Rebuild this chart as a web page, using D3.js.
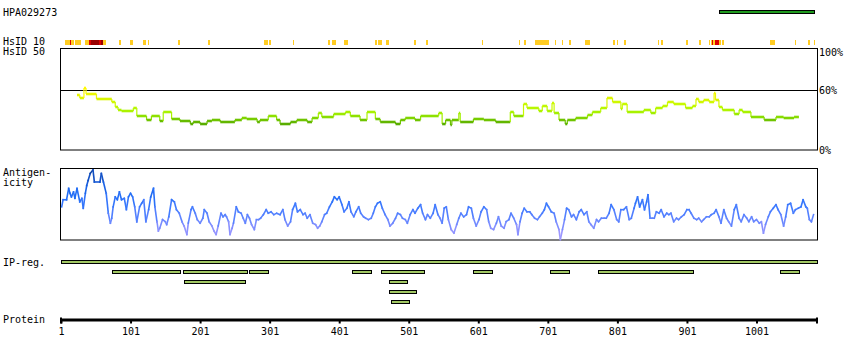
<!DOCTYPE html>
<html><head><meta charset="utf-8">
<script src="https://cdn.jsdelivr.net/npm/d3@7"></script>
<style>
html,body{margin:0;padding:0;background:#fff;}
svg text{font-family:"DejaVu Sans Mono",monospace;font-size:10px;fill:#000;}
</style></head>
<body><svg id="c" width="850" height="360"></svg>
<script>
// ---------------- DATA ----------------
const proteinLength = 1088;
const antigenName = "HPA029273";
const antigenStart = 947, antigenEnd = 1083;
const tickLabels = [1,101,201,301,401,501,601,701,801,901,1001];

// HsID 10 strip: [start, end, level] level 0=yellow 1=red 2=dark red
const hsid10 = [[7,14,0],[14,15,1],[15,20,0],[21,30,0],[36,41,0],[41,44,1],[44,56,2],[56,59,1],[59,61,2],[61,66,0],
[85,87,0],[100,105,0],[119,123,0],[126,128,0],[169,172,0],[213,215,0],[293,298,0],[300,303,0],[334,336,0],
[385,388,0],[391,397,0],[408,413,0],[453,456,0],[457,462,0],[469,473,0],[509,512,0],[526,529,0],[606,608,0],
[659,660,0],[667,670,0],[682,703,0],[711,712,0],[721,722,0],[731,734,0],[754,757,0],[758,761,0],[795,798,0],
[800,801,0],[810,814,0],[859,860,0],[863,867,0],[899,903,0],[918,921,0],[932,934,0],[935,937,0],[937,939,1],
[939,942,0],[942,947,1],[947,950,0],[952,955,0],[1020,1023,0],[1024,1027,0],[1056,1057,0],[1075,1078,0],[1083,1085,0]];

// HsID 50 step line: residue where each level starts, and level (%)
const hsid50Pos = [24,28,34,37,52,74,79,83,88,105,110,124,131,143,148,160,172,187,191,201,211,218,230,251,261,268,283,287,299,311,316,331,340,355,362,371,376,393,410,417,431,441,453,460,482,489,496,510,518,544,549,554,561,563,573,575,594,609,626,647,652,666,671,688,693,700,707,710,717,726,729,741,758,765,777,786,794,806,808,815,839,849,856,866,873,882,899,909,914,918,925,933,940,942,947,952,969,976,981,993,1012,1029,1040,1055,1062];
const hsid50Val = [55,52,62,56,51,48,43,40,39,42,34,30,34,29,38,31,29,26,28,26,29,30,28,30,32,31,28,30,34,30,26,28,30,28,32,37,33,36,38,34,30,38,31,28,26,30,32,30,34,37,26,30,25,30,37,28,31,30,28,38,34,46,42,39,44,39,47,37,30,26,30,32,35,38,42,52,48,41,46,38,40,37,42,44,48,46,42,44,51,48,50,48,57,50,43,40,36,40,38,33,30,33,32,33,33];

// Antigenicity profile (residue, score 0-100)
const antiPos = [2,4,9,12,14,16,19,21,24,28,31,33,36,38,40,43,47,49,57,59,62,66,69,72,74,76,79,82,85,88,92,95,98,101,104,107,110,114,117,120,123,127,130,134,136,139,141,143,147,151,153,156,160,164,167,171,175,178,182,184,188,190,194,197,201,205,207,211,214,218,221,224,227,231,234,237,239,242,244,247,249,253,256,260,263,266,269,272,275,279,282,285,288,292,296,299,303,307,311,316,320,323,327,331,334,338,341,345,349,352,355,359,363,367,370,373,376,380,383,387,391,394,398,401,405,408,412,415,418,422,425,429,432,436,439,443,447,450,453,456,460,463,467,471,474,478,482,485,489,492,496,499,503,507,510,514,518,521,525,528,532,536,539,543,546,549,552,555,558,562,566,570,573,576,580,584,587,591,594,598,602,605,609,613,616,619,623,627,630,634,638,641,645,648,652,656,658,661,664,667,671,675,678,682,686,689,693,696,699,702,706,710,713,717,719,722,725,728,731,735,738,742,746,749,753,757,760,763,767,771,774,778,782,785,789,792,796,800,803,806,810,814,818,821,825,827,830,833,837,840,843,845,848,851,854,857,861,864,868,872,875,878,882,886,889,893,897,901,904,907,911,915,918,922,925,929,933,936,940,943,947,950,954,958,961,965,969,972,976,979,983,987,990,994,997,1001,1005,1008,1011,1014,1018,1021,1025,1029,1032,1036,1040,1043,1046,1050,1054,1057,1061,1065,1068,1072,1074,1077,1080,1083];
const antiVal = [46,56,56,72,65,60,67,58,72,53,58,44,65,76,83,93,98,81,81,93,81,65,37,23,30,46,60,56,67,56,58,42,60,65,60,46,25,46,51,56,25,42,60,72,46,25,12,16,28,25,21,32,56,53,42,37,25,19,7,23,42,46,37,28,23,30,42,37,25,19,12,7,19,37,32,35,32,25,7,16,23,46,39,37,30,23,35,30,21,14,28,28,30,35,42,37,39,35,37,35,42,28,19,25,42,51,39,42,35,37,30,35,23,21,16,19,25,35,37,46,53,60,56,60,49,39,44,53,39,32,39,46,37,32,30,28,30,37,46,51,53,44,35,28,19,23,30,37,35,30,28,23,35,42,37,44,49,37,28,35,30,37,49,35,30,23,44,46,28,14,9,21,30,37,32,35,46,44,30,19,28,39,46,42,25,16,14,23,32,19,16,25,28,37,30,21,7,25,37,44,39,39,35,30,28,32,37,42,51,46,39,37,25,14,0,14,28,44,42,32,35,28,39,42,35,39,25,21,16,28,25,30,30,30,37,49,42,28,25,42,42,46,28,30,44,51,60,46,56,42,53,63,30,30,30,39,37,42,32,37,35,37,25,30,28,32,35,42,42,37,30,28,30,25,28,32,32,35,37,42,32,23,42,30,25,19,42,49,30,25,35,30,25,32,25,28,23,25,9,21,32,39,44,49,42,35,19,32,49,51,37,42,44,46,56,46,44,28,25,35];

// IP-reg rows: [start, end]
const ipRow1 = [[1,1088]];
const ipRow2 = [[75,173],[176,268],[272,300],[419,447],[461,523],[593,621],[704,732],[773,910],[1035,1063]];
const ipRow3 = [[178,265],[472,498]];
const ipRow4 = [[472,511]];
const ipRow5 = [[475,501]];
const ipRows = [ipRow1, ipRow2, ipRow3, ipRow4, ipRow5];

// ---------------- DRAW ----------------
const svg = d3.select("#c");
const x = d3.scaleLinear().domain([1, proteinLength]).range([61, 817]);

const lab = (t, xx, yy) => svg.append("text").attr("x", xx).attr("y", yy).text(t);
lab(antigenName, 3, 16);
lab("HsID 10", 3, 45);
lab("HsID 50", 3, 55);
lab("Antigen-", 3, 175.5);
lab("icity", 3, 185.5);
lab("IP-reg.", 3, 266);
lab("Protein", 3, 322.5);

// antigen bar
svg.append("rect").attr("x", Math.round(x(antigenStart)) + 0.5).attr("y", 10.5)
  .attr("width", Math.round(x(antigenEnd) - x(antigenStart))).attr("height", 3)
  .attr("fill", "#1f9a1f").attr("stroke", "#000").attr("stroke-width", 1);

// HsID 10
const hcol = ["#ffcc22", "#dd0000", "#990000"];
svg.append("g").selectAll("rect").data(hsid10).join("rect")
  .attr("x", d => Math.round(x(d[0]))).attr("y", 40)
  .attr("width", d => Math.max(1, Math.round(x(d[1])) - Math.round(x(d[0])))).attr("height", 5)
  .attr("fill", d => hcol[d[2]]).attr("shape-rendering", "crispEdges");

// HsID 50 panel
const y50 = d3.scaleLinear().domain([0, 100]).range([150, 50]);
svg.append("rect").attr("x", 60.5).attr("y", 48.5).attr("width", 757).attr("height", 101.5)
  .attr("fill", "none").attr("stroke", "#000").attr("stroke-width", 1);
svg.append("line").attr("x1", 60.5).attr("x2", 817.5).attr("y1", Math.round(y50(60)) + 0.5).attr("y2", Math.round(y50(60)) + 0.5)
  .attr("stroke", "#000").attr("stroke-width", 1);
lab("100%", 819, 56);
lab("60%", 819, 94);
lab("0%", 819, 154);

const c50 = d3.scaleLinear().domain([25, 29, 33, 38, 45, 52, 60])
  .range(["#55a800", "#66bb00", "#88dd00", "#a8f200", "#c4fa00", "#ddf500", "#f8f800"]);
const step = d3.line().curve(d3.curveStepAfter).x(d => x(d[0])).y(d => y50(d[1]));
const g50 = svg.append("g");
for (let i = 0; i < hsid50Pos.length - 1; i++) {
  const v = hsid50Val[i];
  const pts = [[hsid50Pos[i], v], [hsid50Pos[i + 1], v]];
  g50.append("path").attr("d", step(pts)).attr("fill", "none")
    .attr("stroke", c50(v)).attr("stroke-width", 2.6);
  if (i < hsid50Pos.length - 2) {
    g50.append("line").attr("x1", x(hsid50Pos[i + 1])).attr("x2", x(hsid50Pos[i + 1]))
      .attr("y1", y50(v)).attr("y2", y50(hsid50Val[i + 1]))
      .attr("stroke", c50(Math.max(v, hsid50Val[i + 1]))).attr("stroke-width", 1.2);
  }
}

// Antigenicity panel
const ya = d3.scaleLinear().domain([0, 100]).range([239.5, 168.5]);
svg.append("rect").attr("x", 60.5).attr("y", 168.5).attr("width", 757).attr("height", 71.5)
  .attr("fill", "none").attr("stroke", "#000").attr("stroke-width", 1);
const ca = d3.scaleLinear().domain([0, 15, 30, 45, 65, 85, 100])
  .range(["#a99cff", "#8d92ff", "#5f84ff", "#3f7aff", "#1f6cf5", "#1556d0", "#0d3e98"]);
const ga = svg.append("g");
for (let i = 0; i < antiPos.length - 1; i++) {
  ga.append("line")
    .attr("x1", x(antiPos[i])).attr("y1", ya(antiVal[i]))
    .attr("x2", x(antiPos[i + 1])).attr("y2", ya(antiVal[i + 1]))
    .attr("stroke", ca((antiVal[i] + antiVal[i + 1]) / 2)).attr("stroke-width", 1.6)
    .attr("stroke-linecap", "square");
}

// IP-reg bars
ipRows.forEach((row, r) => {
  svg.append("g").selectAll("rect").data(row).join("rect")
    .attr("x", d => Math.round(x(d[0])) + 0.5).attr("y", 260.5 + r * 10)
    .attr("width", d => Math.round(x(d[1]) - x(d[0]))).attr("height", 3)
    .attr("fill", "#a2c864").attr("stroke", "#000").attr("stroke-width", 1);
});

// Protein axis
const axis = d3.axisBottom(x).tickValues(tickLabels).tickFormat(d3.format("d"))
  .tickSize(4).tickSizeOuter(0).tickPadding(4);
const ag = svg.append("g").attr("transform", "translate(0,319.5)").call(axis);
ag.select(".domain").attr("stroke-width", 3).attr("stroke", "#000");
ag.selectAll(".tick line").attr("stroke-width", 2).attr("stroke", "#000");
ag.selectAll(".tick text").attr("font-family", "DejaVu Sans Mono").attr("font-size", 10).attr("fill", "#000");
[1, proteinLength].forEach(p => {
  ag.append("line").attr("x1", x(p)).attr("x2", x(p)).attr("y1", -2).attr("y2", 4)
    .attr("stroke", "#000").attr("stroke-width", 2);
});
</script></body></html>
